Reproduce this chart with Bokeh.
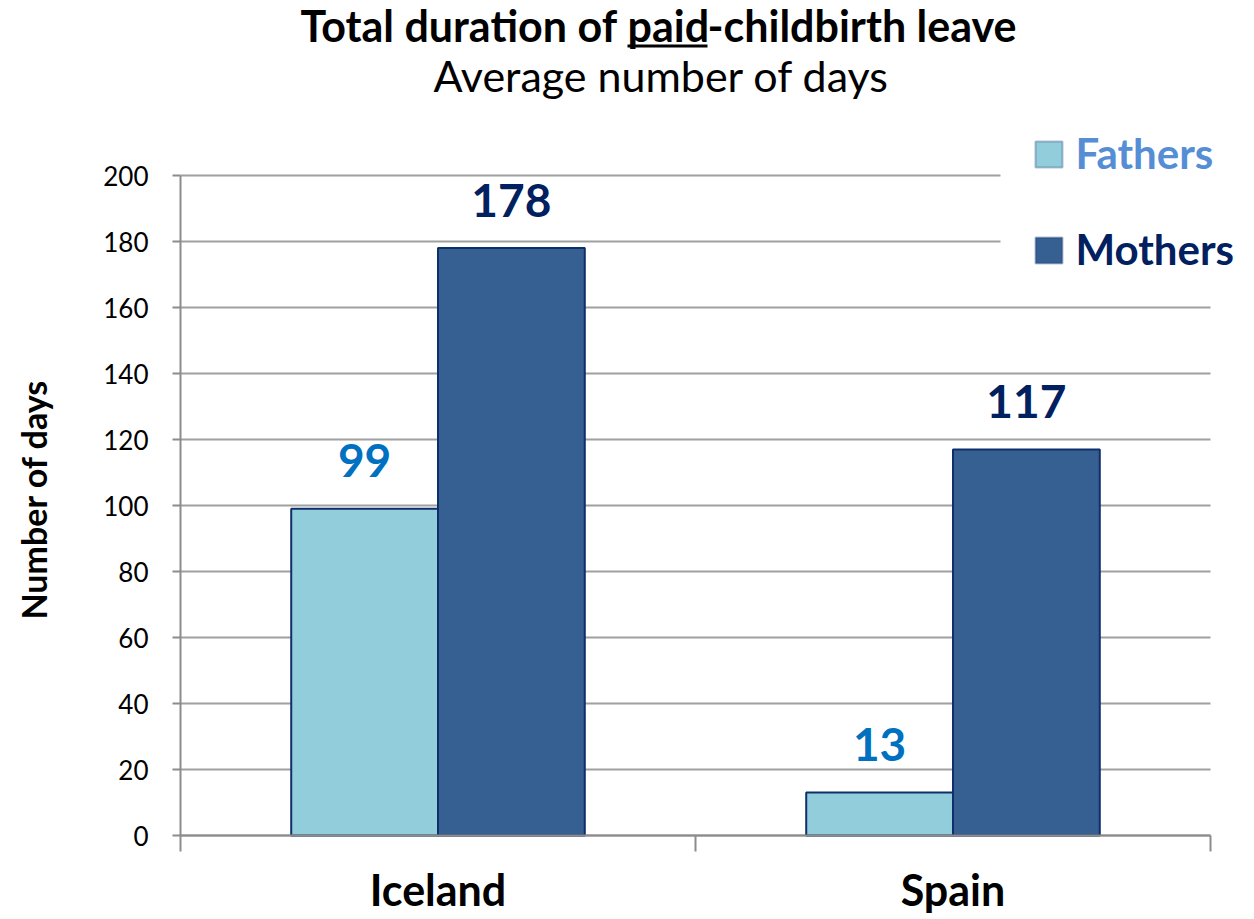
from bokeh.plotting import figure
from bokeh.models import (Range1d, FixedTicker, Label, BoxAnnotation, ColumnDataSource)
from bokeh.transform import dodge
from bokeh.core.properties import value
from bokeh.embed import file_html
from bokeh.resources import INLINE
import math

# ---- data ----
countries = ["Iceland", "Spain"]
series = ["Fathers", "Mothers"]
fathers = [99, 13]
mothers = [178, 117]
y_ticks = [0, 20, 40, 60, 80, 100, 120, 140, 160, 180, 200]
title_parts = ["Total duration of ", "paid", "-childbirth leave"]
subtitle = "Average number of days"
y_label = "Number of days"

FONT = "Lato"
W, H = 1254, 919
# axis box in page pixels; the frame covers the whole canvas, axes sit at data 0
AX_L, AX_R, AX_T, AX_B = 180, 1210, 175, 835
YMAX = 200
n = len(countries)
xc = [i + 0.5 for i in range(n)]
ppx = (AX_R - AX_L) / n          # px per category
ppy = (AX_B - AX_T) / YMAX       # px per day

src = ColumnDataSource(dict(xc=xc, country=countries, fathers=fathers, mothers=mothers,
                            f_lab=[str(v) for v in fathers],
                            m_lab=[str(v) for v in mothers]))

p = figure(width=W, height=H,
           x_range=Range1d(-AX_L / ppx, (W - AX_L) / ppx),
           y_range=Range1d(-(H - AX_B) / ppy, AX_B / ppy),
           output_backend="svg", toolbar_location=None, min_border=0)
p.outline_line_color = None
p.background_fill_color = "white"
p.border_fill_color = "white"
p.xgrid.visible = False
p.ygrid.visible = False

ya = p.yaxis[0]
ya.fixed_location = 0
ya.ticker = FixedTicker(ticks=y_ticks)
ya.bounds = (0, YMAX)
ya.axis_line_color = "#8c8c8c"
ya.axis_line_width = 2
ya.major_tick_line_color = "#8c8c8c"
ya.major_tick_line_width = 2
ya.major_tick_out = 8
ya.major_tick_in = 0
ya.minor_tick_line_color = None
ya.major_label_text_font = FONT
ya.major_label_text_font_size = "26px"
ya.major_label_text_color = "black"
ya.major_label_standoff = 24

xa = p.xaxis[0]
xa.fixed_location = 0
xa.ticker = FixedTicker(ticks=xc, minor_ticks=list(range(n + 1)))
xa.bounds = (0, n)
xa.major_label_overrides = {x: c for x, c in zip(xc, countries)}
xa.axis_line_color = "#8c8c8c"
xa.axis_line_width = 2
xa.major_tick_line_color = None
xa.major_tick_out = 0
xa.major_tick_in = 0
xa.minor_tick_line_color = "#8c8c8c"
xa.minor_tick_line_width = 2
xa.minor_tick_out = 16
xa.minor_tick_in = 0
xa.major_label_text_font = FONT
xa.major_label_text_font_style = "bold"
xa.major_label_text_font_size = "43px"
xa.major_label_text_color = "black"
xa.major_label_standoff = 12

# horizontal gridlines across the category span
p.segment(x0=0, x1=n, y0=y_ticks, y1=y_ticks, line_color="#a0a0a0", line_width=2)

BW = 0.285
OFF = 0.1425
p.vbar(x=dodge("xc", -OFF), top="fathers", width=BW, source=src,
       fill_color="#92cddc", line_color="#0f2f6b", line_width=2)
p.vbar(x=dodge("xc", OFF), top="mothers", width=BW, source=src,
       fill_color="#366092", line_color="#0f2f6b", line_width=2)

p.text(x=dodge("xc", -OFF), y="fathers", text="f_lab", source=src,
       text_align="center", text_baseline="alphabetic", y_offset=-48,
       text_font=value(FONT), text_font_style="bold", text_font_size="46px",
       text_color="#0070c0")
p.text(x=dodge("xc", OFF), y="mothers", text="m_lab", source=src,
       text_align="center", text_baseline="alphabetic", y_offset=-48,
       text_font=value(FONT), text_font_style="bold", text_font_size="46px",
       text_color="#002060")

def sy(py):
    return H - py

def lab(txt, x, y, size, align="left", bold=True, color="black", angle=0.0, base="alphabetic"):
    p.add_layout(Label(x=x, y=sy(y), x_units="screen", y_units="screen", text=txt,
                       text_align=align, text_baseline=base, angle=angle,
                       text_font=FONT, text_font_style="bold" if bold else "normal",
                       text_font_size=size, text_color=color))

def box(l, r, t, b, fill, line=None, lw=1):
    p.add_layout(BoxAnnotation(left=l, right=r, top=sy(t), bottom=sy(b),
                               left_units="screen", right_units="screen", top_units="screen",
                               bottom_units="screen", fill_color=fill, fill_alpha=1,
                               line_color=line, line_width=lw))

# y axis title
lab(y_label, 33, 499, "34px", align="center", angle=math.pi / 2, base="middle")

# title (three parts, middle underlined)
PAID_L, PAID_W = 627, 80
TB = 25
lab(title_parts[0], PAID_L, TB, "43px", align="right")
lab(title_parts[1], PAID_L, TB, "43px")
lab(title_parts[2], PAID_L + PAID_W, TB, "43px")
box(PAID_L, PAID_L + PAID_W, 44, 47, "black")
lab(subtitle, 661, 75, "43px", align="center", bold=False)

# legend (white panel hides gridlines behind it)
box(1000, W, 125, 280, "white")
leg_colors = ["#92cddc", "#366092"]
leg_text_colors = ["#558ed5", "#002060"]
leg_tops = [141, 237]
for name, fc, tc, top in zip(series, leg_colors, leg_text_colors, leg_tops):
    box(1035, 1062, top, top + 26, fc, line="#0f2f6b", lw=2)
    lab(name, 1075, top + 11, "42px", color=tc)

open("out.html", "w").write(file_html(p, INLINE))
